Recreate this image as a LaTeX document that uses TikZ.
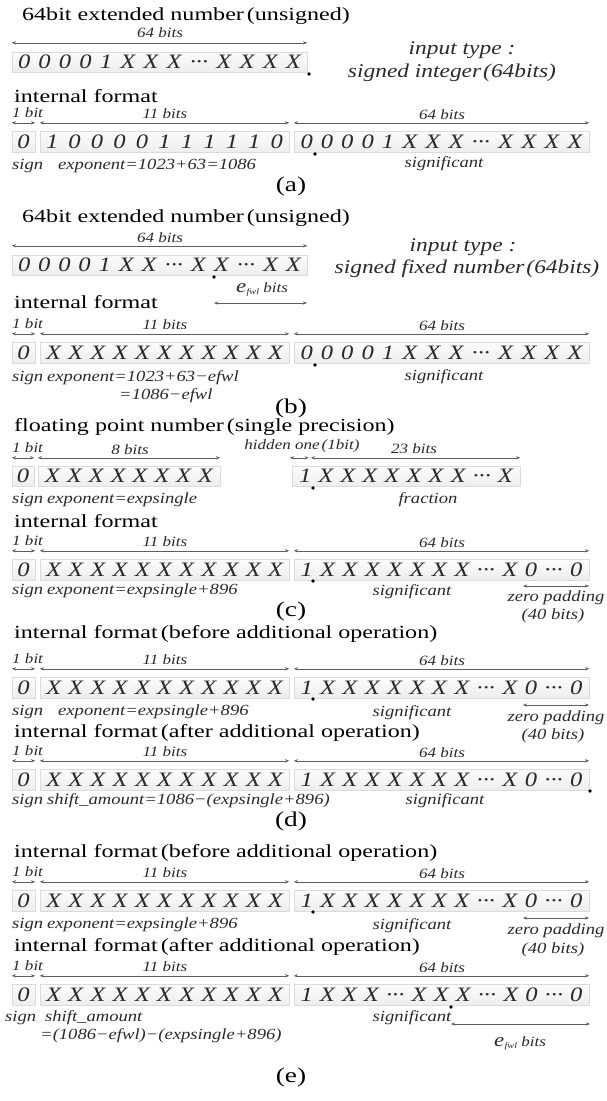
\documentclass[tikz,border=0pt]{standalone}
\usepackage{fontspec}
\setmainfont{Liberation Serif}[FakeStretch=1.2]
\newfontfamily\ttlfont{Liberation Serif}[FakeStretch=1.3]
\usetikzlibrary{arrows.meta,shadows}
\definecolor{ink}{HTML}{2A2A2A}
\definecolor{dimc}{HTML}{5E5E5E}

\tikzset{
  ttl/.style={font=\ttlfont\fontsize{18.5}{21}\selectfont, anchor=west, inner sep=0pt, text=black},
  part/.style={font=\ttlfont\fontsize{21}{23}\selectfont, inner sep=0pt, text=black},
  bitsl/.style={font=\itshape\fontsize{14.2}{16}\selectfont, inner sep=0pt, text=ink},
  lbl/.style={font=\itshape\fontsize{15.5}{17}\selectfont, inner sep=0pt, text=ink},
  big/.style={font=\itshape\fontsize{19.5}{22}\selectfont, inner sep=0pt, text=ink},
  bitbox/.style={rectangle, draw=gray!28, line width=0.4pt, top color=gray!2, bottom color=gray!14,
    inner sep=0pt, minimum height=21pt, font=\itshape\fontsize{20.5}{22}\selectfont, text=ink,
    general shadow={fill=gray!30, shadow xshift=0.8pt, shadow yshift=-1pt}},
  dim/.style={draw=dimc, line width=0.5pt, {Stealth[length=4.2pt,width=3.2pt]}-{Stealth[length=4.2pt,width=3.2pt]}},
  bitdot/.style={circle, fill=black, inner sep=0pt, minimum size=3.6pt},
}

% bit patterns
\newcommand\xeleven{X\hfil X\hfil X\hfil X\hfil X\hfil X\hfil X\hfil X\hfil X\hfil X\hfil X}
\newcommand\sigint{0\hfil 0\hfil 0\hfil 0\hfil 1\hfil X\hfil X\hfil X\hfil ···\hfil X\hfil X\hfil X\hfil X}
\newcommand\sigflt{1\hfil X\hfil X\hfil X\hfil X\hfil X\hfil X\hfil X\hfil ···\hfil X\hfil 0\hfil ···\hfil 0}
\newcommand\efwlsym{{\fontsize{19}{20}\selectfont e}\kern0.5pt\raisebox{-2pt}{\fontsize{8.5}{9}\selectfont fwl}}

% one internal-format row: sign, 11-bit exponent, 64-bit significand
\newcommand\introw[4]{%
  \node[bitbox, minimum width=23pt] (#1s) at (23.5,{#2+10.5}) {0};
  \node[bitbox, minimum width=249pt] (#1e) at (164.5,{#2+10.5}) {\makebox[237pt][s]{#3}};
  \node[bitbox, minimum width=295pt] (#1f) at (441.5,{#2+10.5}) {\makebox[282pt][s]{#4}};
  \draw[dim] ([yshift=8pt]#1s.north west) -- ([yshift=8pt]#1s.north east);
  \draw[dim] ([yshift=8pt]#1e.north west) -- ([yshift=8pt]#1e.north east);
  \draw[dim] ([yshift=8pt]#1f.north west) -- ([yshift=8pt]#1f.north east);
  \node[bitsl, anchor=west] (#1sl) at (12,{#2-18}) {1 bit};
  \node[bitsl] (#1el) at (165,{#2-17}) {11 bits};
  \node[bitsl] (#1fl) at (442,{#2-16}) {64 bits};
}

\begin{document}
\begin{tikzpicture}[x=1pt,y=-1pt]
\useasboundingbox[fill=white] (0,0) rectangle (607,1101);
%% ---------------- (a) ----------------
\node[ttl] (ta) at (22,16) {64bit extended number\kern3pt(unsigned)};
\node[bitbox, minimum width=295pt, minimum height=20pt] (a0) at (159.5,62) {\makebox[283pt][s]{\sigint}};
\draw[dim] ([yshift=9pt]a0.north west) -- ([yshift=9pt]a0.north east);
\node[bitsl] (a0l) at (160,33) {64 bits};
\node[bitdot] (a0d) at (309,74) {};
\node[big] (ain1) at (462,50) {input type :};
\node[big] (ain2) at (452,73) {signed integer\kern2pt(64bits)};
\node[ttl] (tai) at (14,96) {internal format};
\introw{a}{131}{1\hfil 0\hfil 0\hfil 0\hfil 0\hfil 1\hfil 1\hfil 1\hfil 1\hfil 1\hfil 0}{\sigint}
\node[bitdot] (ad) at (315,154) {};
\node[lbl, anchor=west] (asg) at (12,166) {sign};
\node[lbl, anchor=west] (aex) at (58,166) {exponent=1023+63=1086};
\node[lbl] (asi) at (444,164) {significant};
\node[part] (pa) at (291,186) {(a)};
%% ---------------- (b) ----------------
\node[ttl] (tb) at (22,218) {64bit extended number\kern3pt(unsigned)};
\node[bitbox, minimum width=295pt, minimum height=20pt] (b0) at (159.5,265) {\makebox[283pt][s]{0\hfil 0\hfil 0\hfil 0\hfil 1\hfil X\hfil X\hfil ···\hfil X\hfil X\hfil ···\hfil X\hfil X}};
\draw[dim] ([yshift=9pt]b0.north west) -- ([yshift=9pt]b0.north east);
\node[bitsl] (b0l) at (160,238) {64 bits};
\node[bitdot] (b0d) at (214,277) {};
\coordinate (bw2) at (307,303);
\draw[dim] (b0d |- bw2) -- (bw2);
\node[bitsl] (bwl) at (262,289) {\efwlsym\ bits};
\node[big] (bin1) at (463,247) {input type :};
\node[big] (bin2) at (467,269) {signed fixed number\kern2pt(64bits)};
\node[ttl] (tbi) at (14,302) {internal format};
\introw{b}{342}{\xeleven}{\sigint}
\node[bitdot] (bd) at (315,365) {};
\node[lbl, anchor=west] (bsg) at (12,378) {sign};
\node[lbl, anchor=west] (bex) at (47,378) {exponent=1023+63−efwl};
\node[lbl, anchor=west] (bex2) at (119,396) {=1086−efwl};
\node[lbl] (bsi) at (444,377) {significant};
\node[part] (pb) at (291,408) {(b)};
%% ---------------- (c) ----------------
\node[ttl] (tc) at (14,427) {floating point number\kern3pt(single precision)};
\node[bitbox, minimum width=22pt, minimum height=20pt] (cs0) at (23,476) {0};
\node[bitbox, minimum width=182pt, minimum height=20pt] (ce0) at (129,476) {\makebox[168pt][s]{X\hfil X\hfil X\hfil X\hfil X\hfil X\hfil X\hfil X}};
\node[bitbox, minimum width=228pt, minimum height=20pt] (cf0) at (406,476) {\makebox[214pt][s]{1\hfil X\hfil X\hfil X\hfil X\hfil X\hfil X\hfil X\hfil ···\hfil X}};
\draw[dim] ([yshift=8pt]cs0.north west) -- ([yshift=8pt]cs0.north east);
\draw[dim] ([yshift=8pt]ce0.north west) -- ([yshift=8pt]ce0.north east);
\draw[dim] ([xshift=-2pt,yshift=8pt]cf0.north west) -- ([xshift=17pt,yshift=8pt]cf0.north west);
\draw[dim] ([xshift=19pt,yshift=8pt]cf0.north west) -- ([yshift=8pt]cf0.north east);
\node[bitsl, anchor=west] (cs0l) at (12,448) {1 bit};
\node[bitsl] (ce0l) at (130,450) {8 bits};
\node[bitsl] (chl) at (302,446) {hidden one\kern2pt(1bit)};
\node[bitsl] (cf0l) at (414,449) {23 bits};
\node[bitdot] (c0d) at (313,488) {};
\node[lbl, anchor=west] (csg0) at (12,500) {sign};
\node[lbl, anchor=west] (cex0) at (47,500) {exponent=expsingle};
\node[lbl] (cfr) at (428,500) {fraction};
\node[ttl] (tci) at (14,521) {internal format};
\introw{c}{559}{\xeleven}{\sigflt}
\node[bitdot] (cd) at (313,581) {};
\coordinate (czp1) at (523,586);
\coordinate (czp2) at (589,586);
\draw[dim] (czp1) -- (czp2);
\node[lbl, anchor=west] (csg) at (12,591) {sign};
\node[lbl, anchor=west] (cex) at (47,591) {exponent=expsingle+896};
\node[lbl] (csi) at (412,592) {significant};
\node[lbl] (czp) at (556,598) {zero padding};
\node[lbl] (czn) at (553,616) {(40 bits)};
\node[part] (pc) at (291,611) {(c)};
%% ---------------- (d) ----------------
\node[ttl] (td1) at (14,634) {internal format\kern3pt(before additional operation)};
\introw{d}{677}{\xeleven}{\sigflt}
\node[bitdot] (dd1) at (313,699) {};
\coordinate (dzp1) at (523,705);
\coordinate (dzp2) at (589,705);
\draw[dim] (dzp1) -- (dzp2);
\node[lbl, anchor=west] (dsg) at (12,712) {sign};
\node[lbl, anchor=west] (dex) at (58,712) {exponent=expsingle+896};
\node[lbl] (dsi) at (412,713) {significant};
\node[lbl] (dzp) at (556,718) {zero padding};
\node[lbl] (dzn) at (553,736) {(40 bits)};
\node[ttl] (td2) at (14,733) {internal format\kern3pt(after additional operation)};
\introw{dd}{769}{\xeleven}{\sigflt}
\node[bitdot] (dd2) at (590,791) {};
\node[lbl, anchor=west] (ddsg) at (12,801) {sign};
\node[lbl, anchor=west] (ddsh) at (47,801) {shift\_amount=1086−(expsingle+896)};
\node[lbl] (ddsi) at (445,801) {significant};
\node[part] (pd) at (291,821) {(d)};
%% ---------------- (e) ----------------
\node[ttl] (te1) at (14,853) {internal format\kern3pt(before additional operation)};
\introw{e}{890}{\xeleven}{\sigflt}
\node[bitdot] (ed1) at (313,912) {};
\coordinate (ezp1) at (523,918);
\coordinate (ezp2) at (589,918);
\draw[dim] (ezp1) -- (ezp2);
\node[lbl, anchor=west] (esg) at (12,925) {sign};
\node[lbl, anchor=west] (eex) at (47,925) {exponent=expsingle+896};
\node[lbl] (esi) at (412,926) {significant};
\node[lbl] (ezp) at (556,931) {zero padding};
\node[lbl] (ezn) at (553,950) {(40 bits)};
\node[ttl] (te2) at (14,947) {internal format\kern3pt(after additional operation)};
\introw{ee}{984}{\xeleven}{1\hfil X\hfil X\hfil X\hfil ···\hfil X\hfil X\hfil X\hfil ···\hfil X\hfil 0\hfil ···\hfil 0}
\node[bitdot] (eed) at (451,1007) {};
\coordinate (eew) at (590,1024);
\draw[dim] (eed |- eew) -- (eew);
\node[bitsl] (eewl) at (520,1043) {\efwlsym\ bits};
\node[lbl, anchor=west] (eesg) at (5,1018) {sign};
\node[lbl, anchor=west] (eesh) at (45,1018) {shift\_amount};
\node[lbl, anchor=west] (eesh2) at (40,1036) {=(1086−efwl)−(expsingle+896)};
\node[lbl] (eesi) at (412,1018) {significant};
\node[part] (pe) at (291,1077) {(e)};
\end{tikzpicture}
\end{document}
